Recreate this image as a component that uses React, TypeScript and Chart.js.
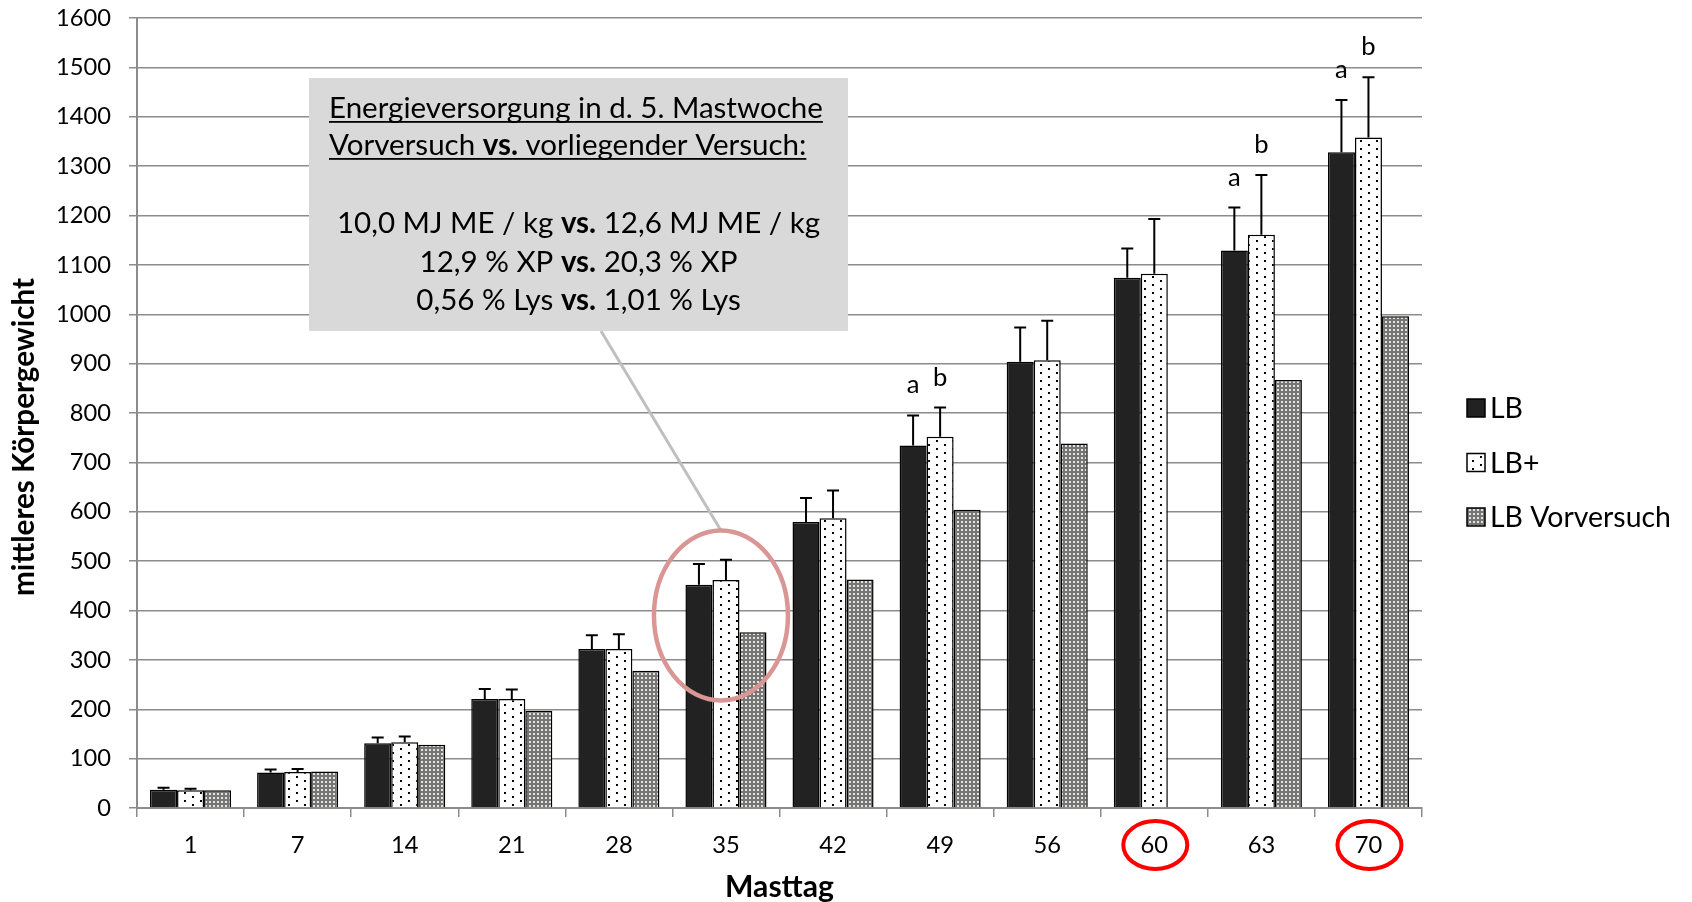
import React, { useEffect, useRef } from 'react';
import { Chart, registerables } from 'chart.js';

Chart.register(...registerables);

// ---------- data ----------
const days = ['1', '7', '14', '21', '28', '35', '42', '49', '56', '60', '63', '70'];
const seriesNames = ['LB', 'LB+', 'LB Vorversuch'];
const lbMean = [37, 72, 131, 221, 322, 452, 579, 734, 904, 1074, 1129, 1328];
const lbSD = [4, 6, 12, 20, 28, 42, 49, 61, 69, 59, 87, 106];
const lbPlusMean = [36, 73, 133, 221, 322, 462, 587, 752, 907, 1082, 1161, 1358];
const lbPlusSD = [3, 6, 12, 19, 30, 41, 56, 59, 80, 111, 121, 122];
const vorMean: (number | null)[] = [36, 74, 128, 197, 278, 356, 463, 604, 738, null, 867, 996];
const lbLetters = ['', '', '', '', '', '', '', 'a', '', '', 'a', 'a'];
const lbPlusLetters = ['', '', '', '', '', '', '', 'b', '', '', 'b', 'b'];
const highlightedDays = ['60', '70'];
const focusDay = '35';
const yMin = 0;
const yMax = 1600;
const yStep = 100;
const xTitle = 'Masttag';
const yTitle = 'mittleres Körpergewicht';
const noteLines: [string, boolean][][] = [
  [['Energieversorgung in d. 5. Mastwoche', false]],
  [['Vorversuch ', false], ['vs.', true], [' vorliegender Versuch:', false]],
  [],
  [['10,0 MJ ME / kg ', false], ['vs.', true], [' 12,6 MJ ME / kg', false]],
  [['12,9 % XP ', false], ['vs.', true], [' 20,3 % XP', false]],
  [['0,56 % Lys ', false], ['vs.', true], [' 1,01 % Lys', false]],
];

// ---------- style ----------
const FAMILY = "Lato, 'Open Sans', sans-serif";
const W = 1692;
const H = 902;

function fitSize(text: string, target: number, weight: string) {
  const c = document.createElement('canvas').getContext('2d')!;
  c.font = `${weight} 100px ${FAMILY}`;
  return (100 * target) / c.measureText(text).width;
}

function makePattern(kind: 'dots' | 'grid') {
  const c = document.createElement('canvas');
  const g = c.getContext('2d')!;
  if (kind === 'dots') {
    c.width = 16;
    c.height = 8;
    g.fillStyle = '#ffffff';
    g.fillRect(0, 0, 16, 8);
    g.fillStyle = '#000000';
    g.fillRect(8, 0, 2, 2);
    g.fillRect(0, 4, 2, 2);
  } else {
    c.width = 4;
    c.height = 4;
    g.fillStyle = '#767676';
    g.fillRect(0, 0, 4, 4);
    g.fillStyle = '#e4e4dc';
    g.fillRect(1, 1, 2, 2);
  }
  return g.createPattern(c, 'repeat')!;
}

export default function App() {
  const ref = useRef<HTMLCanvasElement | null>(null);

  useEffect(() => {
    document.body.style.margin = '0';
    const canvas = ref.current!;
    const tickSize = fitSize('1600', 55, 'normal');
    const legendSize = fitSize('LB Vorversuch', 181, 'normal');
    const noteSize = fitSize('Energieversorgung in d. 5. Mastwoche', 494, 'normal');
    const yTitleSize = fitSize(yTitle, 318, 'bold');
    const xTitleSize = fitSize(xTitle, 109, 'bold');
    const letterSize = tickSize * 1.08;

    const dots = makePattern('dots');
    const grid = makePattern('grid');
    const fills = ['#222222', dots, grid];

    const overlay = {
      id: 'overlay',
      afterDatasetsDraw(chart: any) {
        const ctx: CanvasRenderingContext2D = chart.ctx;
        const ys = chart.scales.y;
        const xs = chart.scales.x;

        // error bars + significance letters
        const specs: [number, number[], string[]][] = [
          [0, lbSD, lbLetters],
          [1, lbPlusSD, lbPlusLetters],
        ];
        specs.forEach(([di, sds, letters]) => {
          const meta = chart.getDatasetMeta(di);
          const vals = chart.data.datasets[di].data;
          meta.data.forEach((bar: any, i: number) => {
            const v = vals[i];
            if (v == null) return;
            const top = ys.getPixelForValue(v + sds[i]);
            ctx.save();
            ctx.strokeStyle = '#000';
            ctx.lineWidth = 2;
            ctx.beginPath();
            ctx.moveTo(bar.x, bar.y);
            ctx.lineTo(bar.x, top);
            ctx.moveTo(bar.x - 6, top);
            ctx.lineTo(bar.x + 6, top);
            ctx.stroke();
            if (letters[i]) {
              ctx.fillStyle = '#000';
              ctx.font = `normal ${letterSize}px ${FAMILY}`;
              ctx.textAlign = 'center';
              ctx.textBaseline = 'alphabetic';
              ctx.fillText(letters[i], bar.x, top - 22);
            }
            ctx.restore();
          });
        });

        // focus ellipse around day 35
        const fi = days.indexOf(focusDay);
        const ex = xs.getPixelForValue(fi) - 5;
        const ey = ys.getPixelForValue(390);
        const boxL = 309, boxT = 78, boxR = 848, boxB = 331;

        ctx.save();
        ctx.strokeStyle = '#bfbfbf';
        ctx.lineWidth = 3;
        ctx.beginPath();
        ctx.moveTo(601, boxB);
        ctx.lineTo(ex, ey - 85);
        ctx.stroke();
        ctx.restore();

        ctx.save();
        ctx.strokeStyle = '#d99694';
        ctx.lineWidth = 4.5;
        ctx.beginPath();
        ctx.ellipse(ex, ey, 67, 85, 0, 0, Math.PI * 2);
        ctx.stroke();
        ctx.restore();

        // note box
        ctx.save();
        ctx.fillStyle = '#d9d9d9';
        ctx.fillRect(boxL, boxT, boxR - boxL, boxB - boxT);
        ctx.fillStyle = '#000';
        ctx.textBaseline = 'alphabetic';
        ctx.textAlign = 'left';
        const baselines = [118, 155, 194, 233, 272, 310];
        noteLines.forEach((runs, li) => {
          if (!runs.length) return;
          const widths = runs.map(([t, b]) => {
            ctx.font = `${b ? 'bold' : 'normal'} ${noteSize}px ${FAMILY}`;
            return ctx.measureText(t).width;
          });
          const total = widths.reduce((a, b) => a + b, 0);
          const underline = li < 2;
          let x = underline ? boxL + 20 : (boxL + boxR) / 2 - total / 2;
          const by = baselines[li];
          runs.forEach(([t, b], ri) => {
            ctx.font = `${b ? 'bold' : 'normal'} ${noteSize}px ${FAMILY}`;
            ctx.fillText(t, x, by);
            x += widths[ri];
          });
          if (underline) {
            const x0 = boxL + 20;
            ctx.fillRect(x0, by + 3, total, 1.8);
          }
        });
        ctx.restore();
      },
      afterDraw(chart: any) {
        const ctx: CanvasRenderingContext2D = chart.ctx;
        const xs = chart.scales.x;
        const ys = chart.scales.y;
        // y axis title
        ctx.save();
        ctx.translate(24, (ys.top + ys.bottom) / 2 + 24);
        ctx.rotate(-Math.PI / 2);
        ctx.fillStyle = '#000';
        ctx.font = `bold ${yTitleSize}px ${FAMILY}`;
        ctx.textAlign = 'center';
        ctx.textBaseline = 'middle';
        ctx.fillText(yTitle, 0, 0);
        ctx.restore();
        // red circles around highlighted day labels
        highlightedDays.forEach((d) => {
          const i = days.indexOf(d);
          const cx = xs.getPixelForValue(i) + 1;
          const cy = xs.top + 37;
          ctx.save();
          ctx.strokeStyle = '#ff0000';
          ctx.lineWidth = 4;
          ctx.beginPath();
          ctx.ellipse(cx, cy, 32, 24, 0, 0, Math.PI * 2);
          ctx.stroke();
          ctx.restore();
        });
        // legend
        const ds = chart.data.datasets;
        ds.forEach((d: any, i: number) => {
          const cy = 408 + i * 54.5;
          ctx.save();
          ctx.fillStyle = d.backgroundColor;
          ctx.fillRect(1467, cy - 9, 18, 18);
          ctx.strokeStyle = '#000';
          ctx.lineWidth = 1.5;
          ctx.strokeRect(1467, cy - 9, 18, 18);
          ctx.fillStyle = '#000';
          ctx.font = `normal ${legendSize}px ${FAMILY}`;
          ctx.textAlign = 'left';
          ctx.textBaseline = 'middle';
          ctx.fillText(d.label, 1490, cy + 1);
          ctx.restore();
        });
      },
    };

    const chart = new Chart(canvas, {
      type: 'bar',
      data: {
        labels: days,
        datasets: [lbMean, lbPlusMean, vorMean].map((data, i) => ({
          label: seriesNames[i],
          data,
          backgroundColor: fills[i] as any,
          borderColor: '#000000',
          borderWidth: 1.5,
          categoryPercentage: 0.757,
          barPercentage: 1.0,
        })),
      },
      options: {
        animation: false,
        responsive: false,
        devicePixelRatio: 1,
        events: [],
        layout: { padding: { top: 18, right: W - 1422, left: 0, bottom: 0 } },
        plugins: { legend: { display: false }, tooltip: { enabled: false } },
        scales: {
          x: {
            grid: {
              offset: true,
              drawOnChartArea: false,
              drawTicks: true,
              tickLength: 9,
              color: '#8c8c8c',
              lineWidth: 1.5,
            },
            border: { display: true, color: '#8c8c8c', width: 2 },
            ticks: {
              font: { family: FAMILY, size: tickSize, lineHeight: 1.2 },
              color: '#000',
              padding: 14,
              maxRotation: 0,
              autoSkip: false,
            },
            title: {
              display: true,
              text: xTitle,
              color: '#000',
              font: { family: FAMILY, size: xTitleSize, weight: 'bold', lineHeight: 1.2 },
              padding: { top: 0, bottom: -3 },
            },
            afterFit: (s: any) => {
              s.height = H - 808;
              s.paddingLeft = 0;
              s.paddingRight = 0;
            },
          },
          y: {
            min: yMin,
            max: yMax,
            ticks: {
              stepSize: yStep,
              font: { family: FAMILY, size: tickSize, lineHeight: 1.2 },
              color: '#000',
              padding: 18,
              callback: (v: any) => String(v),
            },
            grid: { color: '#8c8c8c', lineWidth: 1.5, tickLength: 8 },
            border: { display: true, color: '#8c8c8c', width: 2 },
            title: { display: false },
            afterFit: (s: any) => {
              s.width = 137;
              s.paddingTop = 0;
              s.paddingBottom = 0;
            },
          },
        },
      },
      plugins: [overlay],
    } as any);

    return () => chart.destroy();
  }, []);

  return (
    <div style={{ width: W, height: H }}>
      <canvas ref={ref} width={W} height={H} />
    </div>
  );
}
